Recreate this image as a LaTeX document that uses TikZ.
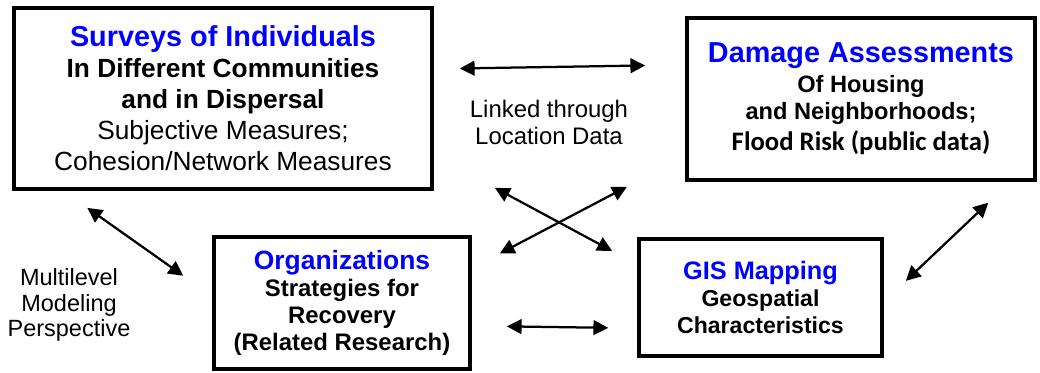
\documentclass[tikz,border=0pt]{standalone}
\usepackage{fontspec}
\setmainfont{Liberation Sans}
\newfontfamily\carlito{Carlito}
\usepackage{tikz}
\usetikzlibrary{arrows.meta}

\definecolor{headblue}{RGB}{0,0,255}
% blue bold heading of a box, optional size in pt
\newcommand{\head}[2][20.5]{{\fontsize{#1}{#1}\selectfont\bfseries\color{headblue}#2}}

\begin{document}
\begin{tikzpicture}[x=0.025cm, y=-0.025cm,
    box/.style={draw, line width=2.5pt, align=center, inner sep=0pt},
    link/.style={{Triangle[length=10.5pt,width=10.5pt]}-{Triangle[length=10.5pt,width=10.5pt]}, line width=1.6pt},
    note/.style={align=center, font=\fontsize{17}{19.2}\selectfont}]
  \useasboundingbox (0,0) rectangle (1040,373);

  % data sources
  \node[box, minimum width=10.45cm, minimum height=4.525cm, font=\fontsize{18.7}{22}\selectfont]
    (surveys) at (223,98.5) {\head{Surveys of Individuals}\\
      \textbf{In Different Communities}\\
      \textbf{and in Dispersal}\\
      Subjective Measures;\\
      Cohesion/Network Measures};
  \node[box, minimum width=8.7cm, minimum height=4.05cm, font=\fontsize{16.8}{21}\selectfont\bfseries]
    (damage) at (861,99) {\head{Damage Assessments}\\
      Of Housing\\[-2pt]
      and Neighborhoods;\\[1.5pt]
      {\fontsize{19}{21}\carlito\bfseries Flood Risk (public data)}};
  \node[box, minimum width=6.4cm, minimum height=3.3cm, font=\fontsize{17}{19.2}\selectfont\bfseries]
    (orgs) at (342,303) {\head[18.8]{Organizations}\\
      Strategies for\\
      Recovery\\
      (Related Research)};
  \node[box, minimum width=6.075cm, minimum height=2.925cm, font=\fontsize{16.4}{19.5}\selectfont\bfseries]
    (gis) at (760.5,297.5) {\head[18]{GIS Mapping}\\
      Geospatial\\
      Characteristics};

  % side notes
  \node[note] (linked) at (549,122) {Linked through\\Location Data};
  \node[note, font=\fontsize{16.7}{18.1}\selectfont] (multi) at (69,305) {Multilevel\\Modeling\\Perspective};

  % two-way links
  \draw[link, shorten <=0.65cm, shorten >=1cm] (surveys.8.5) -- (damage.169.6);
  \draw[link, shorten <=1.735cm, shorten >=0.715cm] (surveys.-15) -- (gis.165.7);
  \draw[link, shorten <=1.645cm, shorten >=0.79cm] (damage.-162.35) -- (orgs.15.1);
  \draw[link, shorten <=0.74cm, shorten >=0.885cm] (surveys.-150.6) -- (orgs.177.9);
  \draw[link, shorten <=0.875cm, shorten >=0.725cm] (orgs.-10.46) -- (gis.-166.57);
  \draw[link, shorten <=0.76cm, shorten >=0.76cm] (damage.-29.1) -- (gis.-2.64);
\end{tikzpicture}
\end{document}
